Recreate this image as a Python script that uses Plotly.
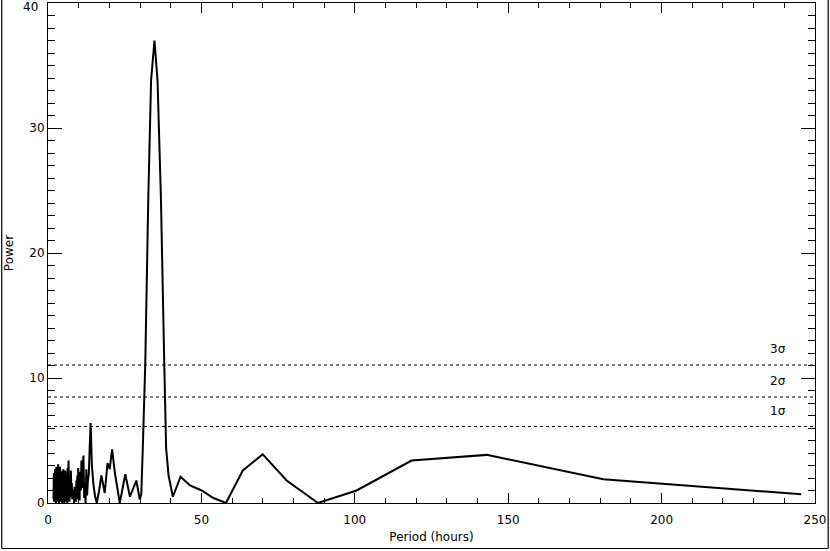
import plotly.graph_objects as go

# ---- data ----
period_hours = [
    1.8, 1.9, 2.0, 2.1, 2.2, 2.3, 2.4, 2.5, 2.6, 2.7, 2.8, 2.9, 3.0, 3.1, 3.2, 3.3, 3.4, 3.5,
    3.6, 3.7, 3.8, 3.9, 4.0, 4.1, 4.2, 4.3, 4.4, 4.5, 4.6, 4.7, 4.8, 4.9, 5.0, 5.1, 5.2, 5.3,
    5.4, 5.5, 5.6, 5.7, 5.8, 5.9, 6.0, 6.1, 6.2, 6.3, 6.4, 6.5, 6.6, 6.7, 6.8, 6.9, 7.0,
    7.15, 7.3, 7.45, 7.6, 7.75, 7.9, 8.05, 8.2, 8.35, 8.5, 8.65, 8.8, 8.95, 9.1, 9.25, 9.4,
    9.55, 9.7, 9.85, 10.0, 10.15, 10.3, 10.45,
    10.7, 10.9, 11.1, 11.3, 11.55, 11.8, 12.0, 12.25, 12.5, 12.75, 13.0, 13.3, 13.6, 13.9,
    14.3, 14.8, 15.3, 15.9, 16.6, 17.4, 18.5, 19.4, 20.1, 20.9, 21.8, 23.4, 25.2, 26.7,
    28.8, 29.9, 30.4, 30.9, 31.7, 32.7, 33.6, 34.7, 35.7, 36.8, 37.9, 38.5, 39.3, 40.7,
    43.2, 46.3, 50.1, 53.9, 58.0, 63.5, 70.0, 77.8, 88.0, 100.6, 118.5, 143.0, 181.0, 245.5,
]
power = [
    0.3, 2.4, 0.1, 2.0, 0.4, 2.7, 0.2, 2.1, 0.0, 2.9, 0.6, 2.3, 0.1, 2.6, 0.3, 3.1, 0.5, 2.4,
    0.0, 2.2, 0.2, 2.9, 0.7, 2.1, 0.1, 2.5, 0.4, 1.9, 0.0, 2.6, 0.3, 2.0, 2.7, 0.2, 2.2, 0.0,
    2.4, 0.5, 2.6, 0.1, 2.1, 0.4, 2.5, 0.2, 1.9, 0.0, 2.8, 0.6, 2.2, 3.4, 0.3, 2.0, 0.1,
    2.1, 0.5, 2.6, 0.9, 1.6, 0.3, 1.1, 0.4, 0.8, 0.0, 1.3, 0.2, 0.7, 0.1, 1.8, 0.5,
    2.2, 0.3, 2.8, 0.6, 1.9, 0.2, 2.5,
    1.0, 3.4, 1.2, 2.9, 3.8, 0.4, 1.6, 0.0, 2.7, 0.6, 1.8, 2.3, 4.5, 6.4,
    3.0, 1.5, 0.6, 0.0, 0.9, 2.2, 0.8, 3.2, 2.7, 4.3, 2.4, 0.0, 2.3, 0.5,
    1.8, 0.3, 0.7, 4.4, 11.1, 24.5, 33.8, 37.0, 33.8, 24.5, 11.1, 4.4, 2.2, 0.5,
    2.1, 1.4, 1.0, 0.4, 0.0, 2.6, 3.9, 1.8, 0.0, 1.0, 3.4, 3.85, 1.9, 0.7,
]
assert len(period_hours) == len(power)

sigma_levels = [6.12, 8.48, 11.04]
sigma_labels = ["1σ", "2σ", "3σ"]

x_ticks = [0, 50, 100, 150, 200, 250]
y_ticks = [0, 10, 20, 30, 40]

fig = go.Figure()

fig.add_trace(go.Scatter(
    x=period_hours, y=power, mode="lines",
    line=dict(color="black", width=2, simplify=False),
    showlegend=False, hoverinfo="skip",
))

for lvl, lab in zip(sigma_levels, sigma_labels):
    fig.add_shape(type="line", xref="paper", x0=0, x1=1, yref="y", y0=lvl, y1=lvl,
                  line=dict(color="black", width=1, dash="dot"))
    fig.add_annotation(x=237.8, y=lvl + 1.25, xref="x", yref="y", text=lab,
                       showarrow=False, font=dict(size=12, color="black"))

# outer border of the picture (left, right, bottom)
W, L = 767.5, 47.8
def px(xp):
    return (xp - L) / W
def py(yp):
    return (503 - yp) / 500
fig.add_shape(type="line", xref="paper", yref="paper", x0=px(1.5), x1=px(1.5), y0=py(548.5), y1=py(0),
              line=dict(color="black", width=1.2))
fig.add_shape(type="line", xref="paper", yref="paper", x0=px(828.5), x1=px(828.5), y0=py(548.5), y1=py(0),
              line=dict(color="black", width=1.2))
fig.add_shape(type="line", xref="paper", yref="paper", x0=px(1.5), x1=px(828.5), y0=py(548.5), y1=py(548.5),
              line=dict(color="black", width=1.2))

font = dict(family="DejaVu Sans", size=12, color="black")

# top y tick label sits a little lower so it is not cut by the picture edge
y_ticktext = [str(t) if t != 40 else "" for t in y_ticks]
fig.add_annotation(x=px(40), y=py(7), xref="paper", yref="paper", text=str(y_ticks[-1]),
                   showarrow=False, xanchor="right", yanchor="middle", font=font)

fig.update_xaxes(
    range=[0, 250], tickvals=x_ticks, ticktext=[str(t) for t in x_ticks],
    ticks="inside", ticklen=10, tickwidth=1, tickcolor="black",
    minor=dict(ticks="inside", dtick=10, ticklen=5, tickwidth=1, tickcolor="black"),
    showline=True, linecolor="black", linewidth=1, mirror="ticks",
    showgrid=False, zeroline=False, tickfont=font, ticklabelstandoff=6,
    title=dict(text="Period (hours)", font=font, standoff=6),
)
fig.update_yaxes(
    range=[0, 40], tickvals=y_ticks, ticktext=y_ticktext,
    ticks="inside", ticklen=14, tickwidth=1, tickcolor="black",
    minor=dict(ticks="inside", dtick=1, ticklen=7, tickwidth=1, tickcolor="black"),
    showline=True, linecolor="black", linewidth=1, mirror="ticks",
    showgrid=False, zeroline=False, tickfont=font,
    title=dict(text="Power", font=font, standoff=13),
)

fig.update_layout(
    width=830, height=551,
    margin=dict(l=48, r=15, t=3, b=48, autoexpand=False),
    paper_bgcolor="white", plot_bgcolor="white",
    font=font,
)

fig.write_html("out.html", config={"displayModeBar": False},
               post_script="document.body.style.margin='0';")
